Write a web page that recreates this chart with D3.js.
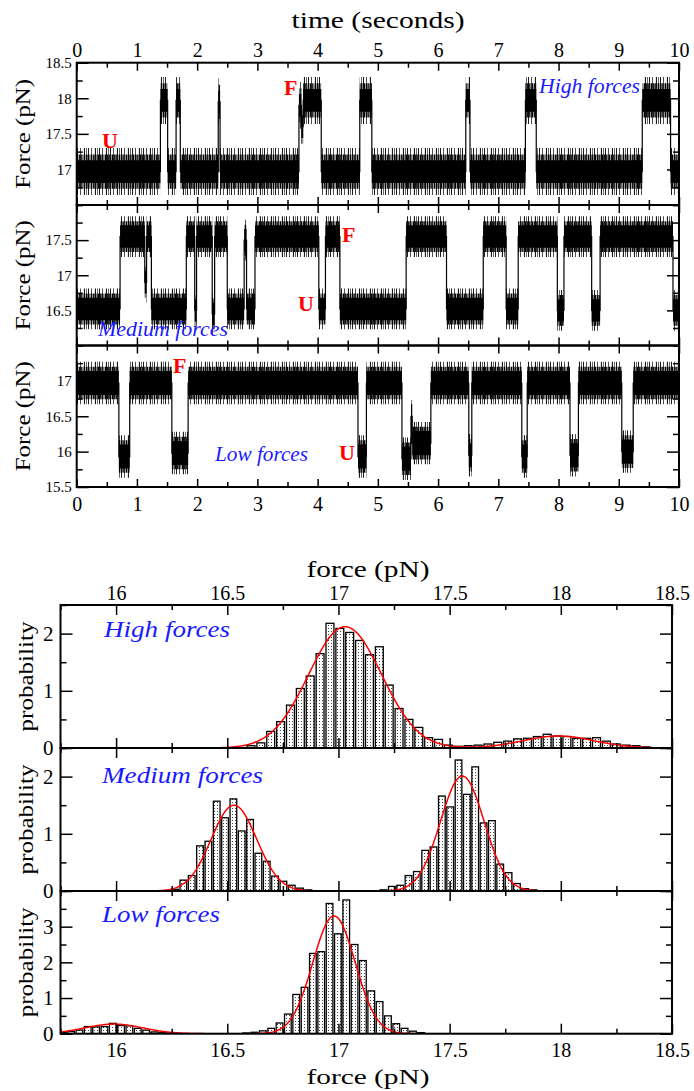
<!DOCTYPE html>
<html><head><meta charset="utf-8">
<script src="https://cdn.jsdelivr.net/npm/d3@7"></script>
<style>body{margin:0;background:#fff} text{font-family:"Liberation Serif","Tinos","Times New Roman","DejaVu Serif",serif}</style>
</head><body>
<svg id="c" width="694" height="1091"></svg>
<script>
// ---------- DATA ----------
const timeTicks = [0,1,2,3,4,5,6,7,8,9,10];
const timeMinorTicks = [0.5,1.5,2.5,3.5,4.5,5.5,6.5,7.5,8.5,9.5];

// force traces: [t start (s), t end (s), mean force (pN)]
const traceHighSegments = [
  [0,1.39,16.97],[1.39,1.51,17.97],[1.51,1.65,16.97],[1.65,1.72,17.97],[1.72,2.35,16.97],
  [2.35,2.38,17.95],[2.38,3.69,16.97],[3.69,3.73,17.9],[3.73,3.76,17.6],[3.76,4.06,17.97],
  [4.06,4.70,16.97],[4.70,4.90,17.97],[4.90,6.46,16.97],[6.46,6.53,17.97],[6.53,7.45,16.97],
  [7.45,7.63,17.97],[7.63,9.39,16.97],[9.39,9.86,17.97],[9.86,10,16.97]
];
const traceMediumSegments = [
  [0,0.72,16.52],[0.72,1.13,17.55],[1.13,1.16,16.9],[1.16,1.24,17.55],[1.24,1.82,16.52],
  [1.82,1.96,17.55],[1.96,1.99,16.5],[1.99,2.25,17.55],[2.25,2.29,16.45],[2.29,2.5,17.55],
  [2.5,2.78,16.52],[2.78,2.82,17.5],[2.82,2.96,16.52],[2.96,4.02,17.55],[4.02,4.13,16.52],
  [4.13,4.37,17.55],[4.37,5.47,16.52],[5.47,6.14,17.55],[6.14,6.75,16.52],[6.75,7.13,17.55],
  [7.13,7.33,16.52],[7.33,7.98,17.55],[7.98,8.09,16.5],[8.09,8.55,17.55],[8.55,8.69,16.5],
  [8.69,9.9,17.55],[9.9,10,16.5]
];
const traceLowSegments = [
  [0,0.70,16.97],[0.70,0.88,15.93],[0.88,1.58,16.97],[1.58,1.85,15.98],[1.85,4.67,16.97],
  [4.67,4.81,15.93],[4.81,5.40,16.97],[5.40,5.55,15.9],[5.55,5.57,16.5],[5.57,5.88,16.12],
  [5.88,6.51,16.97],[6.51,6.56,15.95],[6.56,7.39,16.97],[7.39,7.48,15.93],[7.48,8.19,16.97],
  [8.19,8.33,15.95],[8.33,9.05,16.97],[9.05,9.24,16.0],[9.24,10,16.97]
];
// noise band half-widths (pN): dense core, mid fringe, outer spikes
const traceCoreHalfWidth = [0.16, 0.16, 0.17];
const traceMidHalfWidth = [0.24, 0.22, 0.23];
const traceSpikeHalfWidth = [0.33, 0.29, 0.3];

// histograms
const histTicks = [16,16.5,17,17.5,18,18.5];
const histMinorTicks = [15.75,16.25,16.75,17.25,17.75,18.25];
const histHighStart = 16.5, histHighBin = 0.0444;
const histHighHeights = [0,0,0.04,0.09,0.29,0.46,0.75,1.04,1.26,1.65,2.18,2.09,2.02,1.88,1.63,1.77,1.10,0.69,0.50,0.36,0.18,0.15,0.05,0.03,0.04,0.05,0.07,0.10,0.12,0.16,0.17,0.20,0.24,0.21,0.20,0.17,0.17,0.18,0.12,0.07,0.05,0.04,0.02];
const histMediumStart = 16.25, histMediumBin = 0.0375;
const histMediumHeights = [0.03,0.19,0.27,0.79,0.87,1.57,1.28,1.61,1.05,1.25,0.66,0.52,0.26,0.17,0.10,0.05,0.02,0,0,0,0,0,0,0,0,0.02,0.08,0.10,0.27,0.34,0.71,0.77,1.66,1.47,2.29,1.69,2.17,1.19,1.23,0.47,0.32,0.13,0.04,0.02];
const histLowStart = 15.745, histLowBin = 0.0375;
const histLowHeights = [0.03,0.06,0.10,0.20,0.19,0.20,0.29,0.23,0.22,0.15,0.10,0.05,0.03,0.01,0,0,0,0,0,0,0,0,0.02,0.04,0.08,0.15,0.30,0.55,1.10,1.30,2.25,2.30,3.65,2.80,3.75,2.50,2.05,1.20,0.90,0.50,0.28,0.15,0.07,0.03];
// Gaussian fits: [mean, sigma, amplitude]
const fitHigh = [[17.03,0.164,2.12],[17.99,0.16,0.21]];
const fitMedium = [[16.53,0.102,1.50],[17.557,0.098,2.01]];
const fitLow = [[15.99,0.13,0.27],[16.98,0.095,3.30]];

// ---------- DRAW ----------
const svg = d3.select('#c');
const defs = svg.append('defs');
function stripePattern(id, w, xs){
  const p = defs.append('pattern').attr('id',id).attr('patternUnits','userSpaceOnUse').attr('width',w).attr('height',10);
  xs.forEach(([x,sw])=>p.append('rect').attr('x',x).attr('y',0).attr('width',sw).attr('height',10).attr('fill','#000'));
}
stripePattern('dense', 7, [[0,1.3],[1.9,1],[3.4,1.4],[5.5,0.9]]);
stripePattern('sparse', 11, [[0,0.9],[3.2,0.7],[6.9,1],[9.1,0.6]]);
const dots = defs.append('pattern').attr('id','dots').attr('patternUnits','userSpaceOnUse').attr('width',3).attr('height',3);
dots.append('rect').attr('width',3).attr('height',3).attr('fill','#fff');
dots.append('rect').attr('x',1).attr('y',1).attr('width',1).attr('height',1).attr('fill','#444');

function stretchText(sel, len){
  sel.attr('textLength', len).attr('lengthAdjust','spacingAndGlyphs');
}
function styleAxis(g, fs){
  g.select('.domain').remove();
  g.selectAll('.tick line').attr('stroke','#000').attr('stroke-width',1.5);
  g.selectAll('.tick text').attr('font-family',null).attr('font-size',fs).attr('fill','#000');
}

// ---- time panels ----
const tx = d3.scaleLinear().domain([0,10]).range([76.7,679]);
const timePanels = [
  {seg:traceHighSegments, dom:[16.5,18.5], top:62.7, bot:205, major:[17,17.5,18,18.5], minor:[16.5,16.75,17.25,17.75,18.25]},
  {seg:traceMediumSegments, dom:[16,18], top:205, bot:345.5, major:[16.5,17,17.5], minor:[16,16.25,16.75,17.25,17.75,18]},
  {seg:traceLowSegments, dom:[15.5,17.5], top:345.5, bot:487, major:[15.5,16,16.5,17], minor:[15.75,16.25,16.75,17.25,17.5]}
];
timePanels.forEach((p,i)=>{
  const y = d3.scaleLinear().domain(p.dom).range([p.bot,p.top]);
  defs.append('clipPath').attr('id','tclip'+i).append('rect')
    .attr('x',tx(0)).attr('y',p.top).attr('width',tx(10)-tx(0)).attr('height',p.bot-p.top);
  const g = svg.append('g').attr('clip-path',`url(#tclip${i})`);
  const pts = [];
  p.seg.forEach(([a,b,l])=>{pts.push({t:a,l:l},{t:b,l:l});});
  const band = hw => d3.area().x(d=>tx(d.t)).y0(d=>y(d.l-hw)).y1(d=>y(d.l+hw))(pts);
  g.append('path').attr('d', band(traceSpikeHalfWidth[i])).attr('fill','url(#sparse)');
  g.append('path').attr('d', band(traceMidHalfWidth[i])).attr('fill','url(#dense)');
  g.append('path').attr('d', band(traceCoreHalfWidth[i])).attr('fill','#000');
  g.append('path').attr('d', d3.line().x(d=>tx(d.t)).y(d=>y(d.l))(pts)).attr('fill','none').attr('stroke','#000').attr('stroke-width',1.2);

  // axes
  const left = tx(0), right = tx(10);
  styleAxis(svg.append('g').attr('transform',`translate(${left},0)`).call(d3.axisLeft(y).tickValues(p.minor).tickSize(-6).tickFormat('')),15);
  styleAxis(svg.append('g').attr('transform',`translate(${left},0)`).call(d3.axisLeft(y).tickValues(p.major).tickSize(-12).tickPadding(5).tickFormat(d3.format('~g'))),15);
  styleAxis(svg.append('g').attr('transform',`translate(${right},0)`).call(d3.axisRight(y).tickValues(p.minor).tickSize(-6).tickFormat('')),15);
  styleAxis(svg.append('g').attr('transform',`translate(${right},0)`).call(d3.axisRight(y).tickValues(p.major).tickSize(-12).tickFormat('')),15);
  styleAxis(svg.append('g').attr('transform',`translate(0,${p.top})`).call(d3.axisTop(tx).tickValues(timeMinorTicks).tickSize(-5).tickFormat('')),20);
  styleAxis(svg.append('g').attr('transform',`translate(0,${p.top})`).call(d3.axisTop(tx).tickValues(timeTicks).tickSize(-8).tickPadding(6).tickFormat(i===0?d3.format('d'):'')),20);
  styleAxis(svg.append('g').attr('transform',`translate(0,${p.bot})`).call(d3.axisBottom(tx).tickValues(timeMinorTicks).tickSize(-5).tickFormat('')),20);
  styleAxis(svg.append('g').attr('transform',`translate(0,${p.bot})`).call(d3.axisBottom(tx).tickValues(timeTicks).tickSize(-8).tickPadding(10).tickFormat(i===2?d3.format('d'):'')),20);
  svg.append('rect').attr('x',left).attr('y',p.top).attr('width',right-left).attr('height',p.bot-p.top)
    .attr('fill','none').attr('stroke','#000').attr('stroke-width',2);
  const yl = svg.append('text').attr('transform',`translate(30,${(p.top+p.bot)/2}) rotate(-90)`)
    .attr('text-anchor','middle').attr('font-size',21).text('Force (pN)');
  stretchText(yl,110);
});
stretchText(svg.append('text').attr('x',378).attr('y',28).attr('text-anchor','middle').attr('font-size',24).text('time (seconds)'),173);

// trace annotations
const blue = '#1a1aff';
function label(x,y,txt,fs,len){
  const t = svg.append('text').attr('x',x).attr('y',y).attr('font-style','italic')
    .attr('font-size',fs).attr('fill',blue).text(txt);
  if(len) stretchText(t,len);
}
function letter(x,y,txt){
  svg.append('text').attr('x',x).attr('y',y).attr('font-weight','bold')
    .attr('font-size',22).attr('fill','#ff0000').text(txt);
}
label(539,93,'High forces',20,101);
label(98,336,'Medium forces',20,130);
label(215,461,'Low forces',20,93);
letter(102,148,'U'); letter(284,95,'F');
letter(342,242,'F'); letter(298,311,'U');
letter(173,373,'F'); letter(339,460,'U');

// ---- histograms ----
const hx = d3.scaleLinear().domain([15.75,18.5]).range([60.5,672]);
const histPanels = [
  {start:histHighStart, bin:histHighBin, h:histHighHeights, fit:fitHigh, dom:[0,2.5], top:605, bot:748, major:[0,1,2], minor:[0.5,1.5,2.5]},
  {start:histMediumStart, bin:histMediumBin, h:histMediumHeights, fit:fitMedium, dom:[0,2.5], top:748, bot:891, major:[0,1,2], minor:[0.5,1.5,2.5]},
  {start:histLowStart, bin:histLowBin, h:histLowHeights, fit:fitLow, dom:[0,4], top:891, bot:1033.7, major:[0,1,2,3], minor:[0.5,1.5,2.5,3.5,4]}
];
const fitX = d3.range(15.75, 18.5001, 0.005);
histPanels.forEach((p,i)=>{
  const y = d3.scaleLinear().domain(p.dom).range([p.bot,p.top]);
  defs.append('clipPath').attr('id','hclip'+i).append('rect')
    .attr('x',hx(15.75)).attr('y',p.top).attr('width',hx(18.5)-hx(15.75)).attr('height',p.bot-p.top);
  const g = svg.append('g').attr('clip-path',`url(#hclip${i})`);
  const bars = p.h.map((v,k)=>({x0:p.start+k*p.bin, v:v})).filter(d=>d.v>0);
  g.selectAll('rect.bar').data(bars).enter().append('rect').attr('class','bar')
    .attr('x',d=>hx(d.x0)).attr('width',d=>hx(d.x0+p.bin*0.8)-hx(d.x0))
    .attr('y',d=>y(d.v)).attr('height',d=>y(0)-y(d.v))
    .attr('fill','url(#dots)').attr('stroke','#000').attr('stroke-width',1.3);
  const fitPts = fitX.map(x=>({x:x, v:d3.sum(p.fit,([m,s,a])=>a*Math.exp(-0.5*((x-m)/s)**2))}));
  g.append('path').attr('d', d3.line().x(d=>hx(d.x)).y(d=>y(d.v))(fitPts))
    .attr('fill','none').attr('stroke','#ff0000').attr('stroke-width',1.5);

  const left = hx(15.75), right = hx(18.5);
  styleAxis(svg.append('g').attr('transform',`translate(${left},0)`).call(d3.axisLeft(y).tickValues(p.minor).tickSize(-6).tickFormat('')),21);
  styleAxis(svg.append('g').attr('transform',`translate(${left},0)`).call(d3.axisLeft(y).tickValues(p.major).tickSize(-12).tickPadding(7).tickFormat(d3.format('d'))),21);
  styleAxis(svg.append('g').attr('transform',`translate(${right},0)`).call(d3.axisRight(y).tickValues(p.minor).tickSize(-6).tickFormat('')),21);
  styleAxis(svg.append('g').attr('transform',`translate(${right},0)`).call(d3.axisRight(y).tickValues(p.major).tickSize(-12).tickFormat('')),21);
  styleAxis(svg.append('g').attr('transform',`translate(0,${p.top})`).call(d3.axisTop(hx).tickValues(histMinorTicks).tickSize(-5).tickFormat('')),20);
  styleAxis(svg.append('g').attr('transform',`translate(0,${p.top})`).call(d3.axisTop(hx).tickValues(histTicks).tickSize(-10).tickPadding(5).tickFormat(i===0?d3.format('~g'):'')),20);
  styleAxis(svg.append('g').attr('transform',`translate(0,${p.bot})`).call(d3.axisBottom(hx).tickValues(histMinorTicks).tickSize(-5).tickFormat('')),20);
  styleAxis(svg.append('g').attr('transform',`translate(0,${p.bot})`).call(d3.axisBottom(hx).tickValues(histTicks).tickSize(-10).tickPadding(9).tickFormat(i===2?d3.format('~g'):'')),20);
  svg.append('rect').attr('x',left).attr('y',p.top).attr('width',right-left).attr('height',p.bot-p.top)
    .attr('fill','none').attr('stroke','#000').attr('stroke-width',2);
  const yl = svg.append('text').attr('transform',`translate(33,${(p.top+p.bot)/2}) rotate(-90)`)
    .attr('text-anchor','middle').attr('font-size',21).text('probability');
  stretchText(yl,110);
});
stretchText(svg.append('text').attr('x',368).attr('y',577).attr('text-anchor','middle').attr('font-size',23).text('force (pN)'),123);
stretchText(svg.append('text').attr('x',368).attr('y',1084).attr('text-anchor','middle').attr('font-size',22).text('force (pN)'),123);
label(104,637,'High forces',23,126);
label(102,783,'Medium forces',23,161);
label(102,922,'Low forces',23,118);
</script>
</body></html>
